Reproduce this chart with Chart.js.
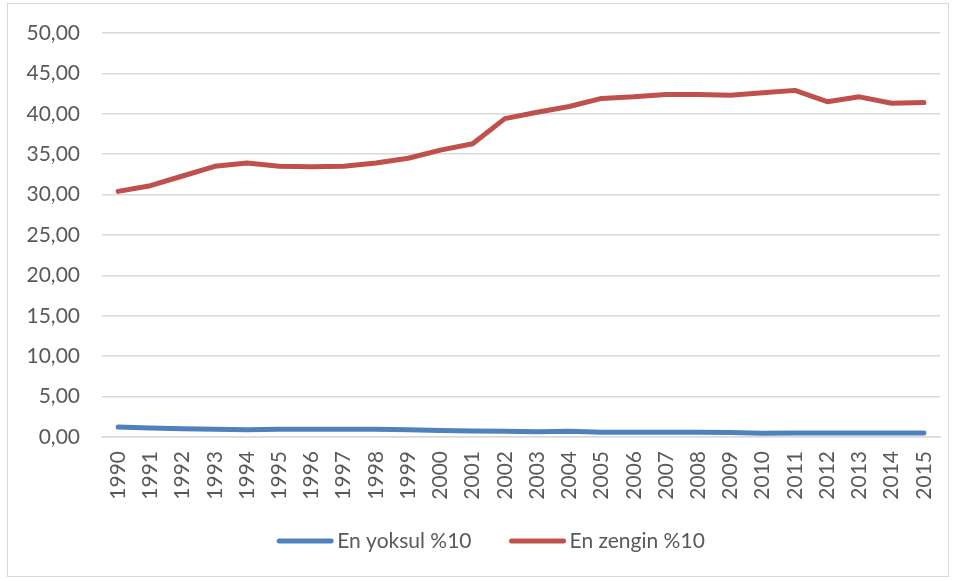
<!DOCTYPE html>
<html>
<head>
<meta charset="utf-8">
<script src="https://cdn.jsdelivr.net/npm/chart.js@4"></script>
<style>
  html, body { margin: 0; padding: 0; background: #fff; }
  #wrap { position: relative; width: 958px; height: 581px; }
  #frame { position: absolute; left: 7px; top: 3px; width: 942px; height: 574px; border: 1px solid #d9d9d9; box-sizing: border-box; pointer-events: none; }
</style>
</head>
<body>
<div id="wrap">
  <canvas id="chart" width="958" height="581"></canvas>
  <div id="frame"></div>
</div>
<script>
// ------------------- Data -------------------
const years = ['1990', '1991', '1992', '1993', '1994', '1995', '1996', '1997', '1998', '1999',
  '2000', '2001', '2002', '2003', '2004', '2005', '2006', '2007', '2008', '2009',
  '2010', '2011', '2012', '2013', '2014', '2015'];

const poorest = [1.24, 1.12, 1.02, 0.95, 0.90, 0.95, 0.95, 0.95, 0.95, 0.90,
  0.80, 0.75, 0.70, 0.65, 0.70, 0.60, 0.60, 0.60, 0.60, 0.55,
  0.45, 0.50, 0.50, 0.50, 0.50, 0.50];

const richest = [30.4, 31.1, 32.3, 33.5, 33.9, 33.5, 33.45, 33.5, 33.9, 34.5,
  35.5, 36.3, 39.4, 40.2, 40.9, 41.9, 42.1, 42.4, 42.4, 42.3,
  42.6, 42.9, 41.5, 42.1, 41.3, 41.4];

const seriesNames = ['En yoksul %10', 'En zengin %10'];

const textColor = '#595959';
const fontFamily = 'Lato, "Open Sans", sans-serif';
const fontSize = 21;

// ------------------- Plugin: bottom legend with long line keys -------------------
const lineLegend = {
  id: 'lineLegend',
  afterDraw(chart) {
    const ctx = chart.ctx;
    const sets = chart.data.datasets;
    const keyLen = 56, keyGap = 4, itemGap = 38;
    ctx.save();
    ctx.font = `${fontSize}px ${fontFamily}`;
    const widths = sets.map(d => keyLen + keyGap + ctx.measureText(d.label).width);
    const total = widths.reduce((a, b) => a + b, 0) + itemGap * (sets.length - 1);
    let x = 491 - total / 2;
    const y = 541;
    sets.forEach((d, i) => {
      ctx.strokeStyle = d.borderColor;
      ctx.lineWidth = 5;
      ctx.lineCap = 'round';
      ctx.beginPath();
      ctx.moveTo(x + 2, y);
      ctx.lineTo(x + keyLen - 2, y);
      ctx.stroke();
      ctx.fillStyle = textColor;
      ctx.textBaseline = 'middle';
      ctx.textAlign = 'left';
      ctx.fillText(d.label, x + keyLen + keyGap, y);
      x += widths[i] + itemGap;
    });
    ctx.restore();
  }
};

// ------------------- Chart -------------------
new Chart(document.getElementById('chart').getContext('2d'), {
  type: 'line',
  data: {
    labels: years,
    datasets: [
      {
        label: seriesNames[0],
        data: poorest,
        borderColor: '#4F81BD',
        backgroundColor: '#4F81BD',
        borderWidth: 5,
        pointRadius: 0,
        borderCapStyle: 'round',
        borderJoinStyle: 'round',
        tension: 0
      },
      {
        label: seriesNames[1],
        data: richest,
        borderColor: '#C0504D',
        backgroundColor: '#C0504D',
        borderWidth: 5,
        pointRadius: 0,
        borderCapStyle: 'round',
        borderJoinStyle: 'round',
        tension: 0
      }
    ]
  },
  plugins: [lineLegend],
  options: {
    responsive: false,
    animation: false,
    layout: {
      padding: { left: 20, right: 18, top: 33, bottom: 69 }
    },
    plugins: {
      tooltip: { enabled: false },
      legend: { display: false }
    },
    scales: {
      y: {
        min: 0,
        max: 50,
        ticks: {
          stepSize: 5,
          color: textColor,
          font: { family: fontFamily, size: fontSize },
          padding: 22,
          callback: v => v.toFixed(2).replace('.', ',')
        },
        grid: { color: '#d9d9d9', lineWidth: 1.5, drawTicks: false },
        border: { display: false },
        afterFit: s => { s.width = 82; s.paddingTop = 0; s.paddingBottom = 0; }
      },
      x: {
        offset: true,
        ticks: {
          color: textColor,
          font: { family: fontFamily, size: fontSize },
          minRotation: 90,
          maxRotation: 90,
          autoSkip: false,
          padding: 14
        },
        grid: { display: false, drawTicks: false },
        border: { color: '#d9d9d9', width: 1.5 },
        afterFit: s => { s.height = 75; s.paddingLeft = 0; s.paddingRight = 0; }
      }
    }
  }
});
</script>
</body>
</html>
